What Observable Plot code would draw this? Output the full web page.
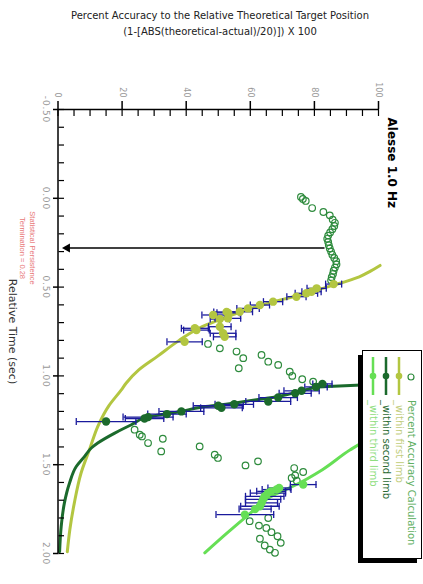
<!DOCTYPE html>
<html><head><meta charset="utf-8">
<script src="https://cdn.jsdelivr.net/npm/d3@7"></script>
<script src="https://cdn.jsdelivr.net/npm/@observablehq/plot@0.6"></script>
<style>
html,body{margin:0;padding:0;background:#fff;overflow:hidden;width:423px;height:584px;}
#title{position:absolute;left:0;top:0;width:440px;text-align:center;font-family:"DejaVu Sans",sans-serif;font-size:10px;line-height:16px;padding-top:8px;color:#222;}
#wrap{position:absolute;left:0;top:40px;width:544px;height:423px;transform-origin:0 0;transform:translate(423px,0) rotate(90deg);}
#wrap > svg.chart{position:absolute;left:0;top:0;}
#legend{position:absolute;left:310px;top:1px;}
g[aria-label="x-axis tick label"] text{letter-spacing:0.8px;}
g[aria-label="chart title"] text{letter-spacing:2px;}
</style>
</head><body>
<div id="title">Percent Accuracy to the Relative Theoretical Target Position<br>(1-[ABS(theoretical-actual)/20)]) X 100</div>
<div id="wrap"></div>
<script>
// ---- data (time in s, percent accuracy) ----
const accTime = [-0.008,0.004,0.015,0.055,0.077,0.096,0.12,0.138,0.156,0.174,0.192,0.21,0.228,0.246,0.264,0.282,0.30,0.318,0.336,0.354,0.372,0.39,0.408,0.426,0.444,0.462,
  0.82,0.845,0.863,0.882,0.9,0.92,0.938,0.957,0.976,1.0,1.019,1.032,
  1.303,1.331,1.341,1.354,1.378,1.397,1.425,1.444,1.462,1.481,1.504,1.519,1.541,1.56,1.575,1.59,
  1.8,1.818,1.843,1.856,1.88,1.903,1.917,1.94,1.955,1.978,1.996];
const accPct = [75.8,76.4,77.3,79.3,82.8,84.8,85.7,86.4,86.2,85.6,84.9,84.3,84.0,84.3,84.5,84.8,85.2,85.6,86.2,86.8,86.9,86.4,86.0,85.8,85.4,85.2,
  46.8,50.5,55.7,63.5,57.8,65.6,68.7,56.4,72.3,73.1,76.2,79.6,
  23.9,25.5,26.2,32.7,28.1,44.2,32.2,48.9,49.9,62.4,58.5,73.7,76.5,74.0,72.9,74.5,
  65.6,59.8,62.7,65.0,66.6,68.5,63.0,69.5,64.5,66.1,67.7];

const limb1Time = [0.483,0.507,0.526,0.535,0.554,0.582,0.601,0.62,0.639,0.645,0.64,0.657,0.676,0.68,0.723,0.732,0.742,0.76,0.78,0.808];
const limb1Pct  = [86,80.7,79.1,77.5,74.4,67.1,63,59.3,56.7,53.1,52.6,48.4,53,50.5,50.5,42.7,43.2,51.5,52,39.5];
const limb1Err  = [2.5,3,3,3.5,3,3,3,3.5,4,3.5,4,3.5,4,3,3.5,4.2,4,4,3.5,5.5];

const limb2Time = [1.045,1.062,1.084,1.098,1.122,1.144,1.16,1.168,1.18,1.2,1.215,1.232,1.24,1.257];
const limb2Pct  = [82.5,80.5,76,74,68.7,65.6,55,50,51,38.5,34,28.1,27,15];
const limb2Err  = [3,3.5,5.5,5,6,7,6,7.8,6.5,7,6,7.8,6,9.3];

const limb3Time = [1.612,1.631,1.64,1.65,1.66,1.678,1.695,1.715,1.734,1.75,1.781];
const limb3Pct  = [76.5,69,68.2,66.5,65.5,64.5,64,63.5,63,61.5,58.3];
const limb3Err  = [4,3.5,4.5,4.5,5.5,6,5.5,5,6,5,9];

const curve1Time = [0.378,0.41,0.442,0.489,0.526,0.554,0.582,0.61,0.648,0.685,0.723,0.76,0.8,0.89,0.966,1.04,1.08,1.17,1.285,1.406,1.547,1.715,1.865,1.99];
const curve1Pct  = [100.5,97.5,94,86,78.8,73.4,67.3,62,55.8,50.3,45,41.2,37.8,31,25.2,21.3,19.7,15.8,12.4,10,7.2,5.1,3.7,2.9];

const curve2Time = [1.045,1.052,1.058,1.062,1.075,1.084,1.116,1.135,1.163,1.176,1.2,1.215,1.232,1.275,1.322,1.378,1.406,1.453,1.51,1.603,1.715,1.847,1.99];
const curve2Pct  = [100,93,86,81,78,76,68.7,61.4,51,44.7,38.5,33.3,28.1,22.9,17.7,12.4,10.4,8.3,5.7,3.6,2.0,1.0,0.5];

const curve3Time = [1.33,1.36,1.416,1.528,1.62,1.678,1.781,1.884,1.996];
const curve3Pct  = [100,96.5,91.2,82.5,73.5,66.5,59.5,52.8,45.8];

const terminationTime = [0.28];
const arrowFromPct = [83];
const arrowToPct = [2.9];

const timeTicks = [-0.5,0,0.5,1,1.5,2];
const timeMinor = d3.range(-5,21).map(i => i/10);
const pctTicks = [0,20,40,60,80,100];
const pctMinor = d3.range(0,101,5);

const legendItems = ["Percent Accuracy Calculation","_within first limb","_within second limb","_within third limb"];

// ---- build ----
const zip = (t,p,e) => t.map((d,i) => ({t:d, p:p[i], e: e ? e[i] : 0}));
const acc = zip(accTime, accPct);
const l1 = zip(limb1Time, limb1Pct, limb1Err);
const l2 = zip(limb2Time, limb2Pct, limb2Err);
const l3 = zip(limb3Time, limb3Pct, limb3Err);
const c1 = zip(curve1Time, curve1Pct);
const c2 = zip(curve2Time, curve2Pct);
const c3 = zip(curve3Time, curve3Pct);
const term = terminationTime.map((t,i) => ({t, from: arrowFromPct[i], to: arrowToPct[i]}));

const C_CIRCLE = "#2e8b3d", C1 = "#b3c641", C2 = "#1b6a2c", C3 = "#66df55", C_ERR = "#1a1a9c";
const hline = {draw(ctx, size){ const r = Math.sqrt(size/Math.PI); ctx.moveTo(-r,0); ctx.lineTo(r,0); }};

function limbMarks(data, color){
  return [
    Plot.ruleX(data, {x:"t", y1: d => d.p - d.e, y2: d => d.p + d.e, stroke: C_ERR, strokeWidth: 1.3}),
    Plot.dot(data, {x:"t", y: d => d.p - d.e, symbol: hline, r: 3.5, fill: "none", stroke: C_ERR, strokeWidth: 1.3}),
    Plot.dot(data, {x:"t", y: d => d.p + d.e, symbol: hline, r: 3.5, fill: "none", stroke: C_ERR, strokeWidth: 1.3}),
    Plot.dot(data, {x:"t", y:"p", r: 4.2, fill: color})
  ];
}

const chart = Plot.plot({
  width: 544, height: 423,
  marginLeft: 69, marginRight: 31, marginTop: 44, marginBottom: 58.5,
  x: {domain: [-0.5, 2]},
  y: {domain: [0, 100]},
  style: {fontFamily: "'DejaVu Sans', sans-serif", background: "transparent", overflow: "visible"},
  marks: [
    Plot.dot(acc, {x:"t", y:"p", r: 3.3, fill: "none", stroke: C_CIRCLE, strokeWidth: 1.2}),
    Plot.line(c1, {x:"t", y:"p", stroke: C1, strokeWidth: 3, curve: "monotone-x"}),
    Plot.line(c2, {x:"t", y:"p", stroke: C2, strokeWidth: 3, curve: "monotone-x"}),
    Plot.line(c3, {x:"t", y:"p", stroke: C3, strokeWidth: 3, curve: "monotone-x"}),
    ...limbMarks(l1, C1),
    ...limbMarks(l2, C2),
    ...limbMarks(l3, C3),
    Plot.ruleX(term, {x:"t", y1:"from", y2:"to", stroke:"#000", strokeWidth: 1.5}),
    Plot.dot(term, {x:"t", y:"to", symbol:"triangle", r: 3.4, rotate: 180, fill:"#000"}),
    Plot.ruleY([0], {stroke:"#000", strokeWidth: 1.5}),
    Plot.ruleX([-0.5], {stroke:"#000", strokeWidth: 1.5}),
    Plot.axisX({ticks: timeTicks, tickSize: 5.5, tickPadding: 3, tickFormat: d => d.toFixed(2), fontSize: 9, fill: "#999", stroke: "#000", strokeWidth: 1.5, label: null}),
    Plot.axisX({ticks: timeMinor, tickSize: 5.5, dy: -5.5, fill: "none", stroke: "#000", strokeWidth: 1.2, label: null}),
    Plot.axisY({ticks: pctTicks, tickSize: 8, tickPadding: 4, fontSize: 8, fill: "#999", stroke: "#000", strokeWidth: 1.5, label: null}),
    Plot.axisY({ticks: pctMinor, tickSize: 7, dx: 7, fill: "none", stroke: "#000", strokeWidth: 1.2, label: null}),
    Plot.text(["Alesse 1.0 Hz"], {text: d => d, frameAnchor: "top-left", dx: 8, dy: -13, textAnchor: "start", lineAnchor: "middle", fontSize: 12, fontWeight: "bold", fill: "#000", ariaLabel: "chart title"}),
    Plot.text(["Relative Time (sec)"], {text: d => d, frameAnchor: "bottom", dy: 45.5, lineAnchor: "middle", fontSize: 11, fill: "#333"}),
    Plot.text(term, {x:"t", text: d => `Statistical Persistence\nTermination = ${d.t}`, frameAnchor: "bottom", dy: 21, lineAnchor: "top", fontSize: 7.5, lineHeight: 1.35, fill: "#e87878", fontFamily: "'Liberation Sans', sans-serif"})
  ]
});
chart.classList.add("chart");
const wrap = document.getElementById("wrap");
wrap.appendChild(chart);

// ---- legend (rotated with the chart) ----
const lg = d3.select(wrap).append("svg").attr("id","legend").attr("width",214).attr("height",65)
  .style("font-family","'DejaVu Sans', sans-serif");
lg.append("rect").attr("x",5).attr("y",5).attr("width",208).attr("height",59).attr("fill","#000");
lg.append("rect").attr("x",0.5).attr("y",0.5).attr("width",208).attr("height",59).attr("fill","#fff").attr("stroke","#000");
const rows = [11, 23, 36, 49];
const symColors = [null, C1, C2, C3];
const textColors = ["#5faf62", "#c2cd7c", "#2b6b34", "#8fde80"];
legendItems.forEach((label, i) => {
  const y = rows[i];
  if (i === 0) {
    lg.append("circle").attr("cx",27).attr("cy",y).attr("r",3).attr("fill","none").attr("stroke",C_CIRCLE).attr("stroke-width",1.2);
  } else {
    lg.append("line").attr("x1",7).attr("x2",45).attr("y1",y).attr("y2",y).attr("stroke",symColors[i]).attr("stroke-width",2.5);
    lg.append("circle").attr("cx",26).attr("cy",y).attr("r",3.3).attr("fill",symColors[i]);
  }
  lg.append("text").attr("x",50).attr("y",y).attr("dy","0.35em").attr("font-size",10).attr("fill",textColors[i]).text(label);
});
</script>
</body></html>
